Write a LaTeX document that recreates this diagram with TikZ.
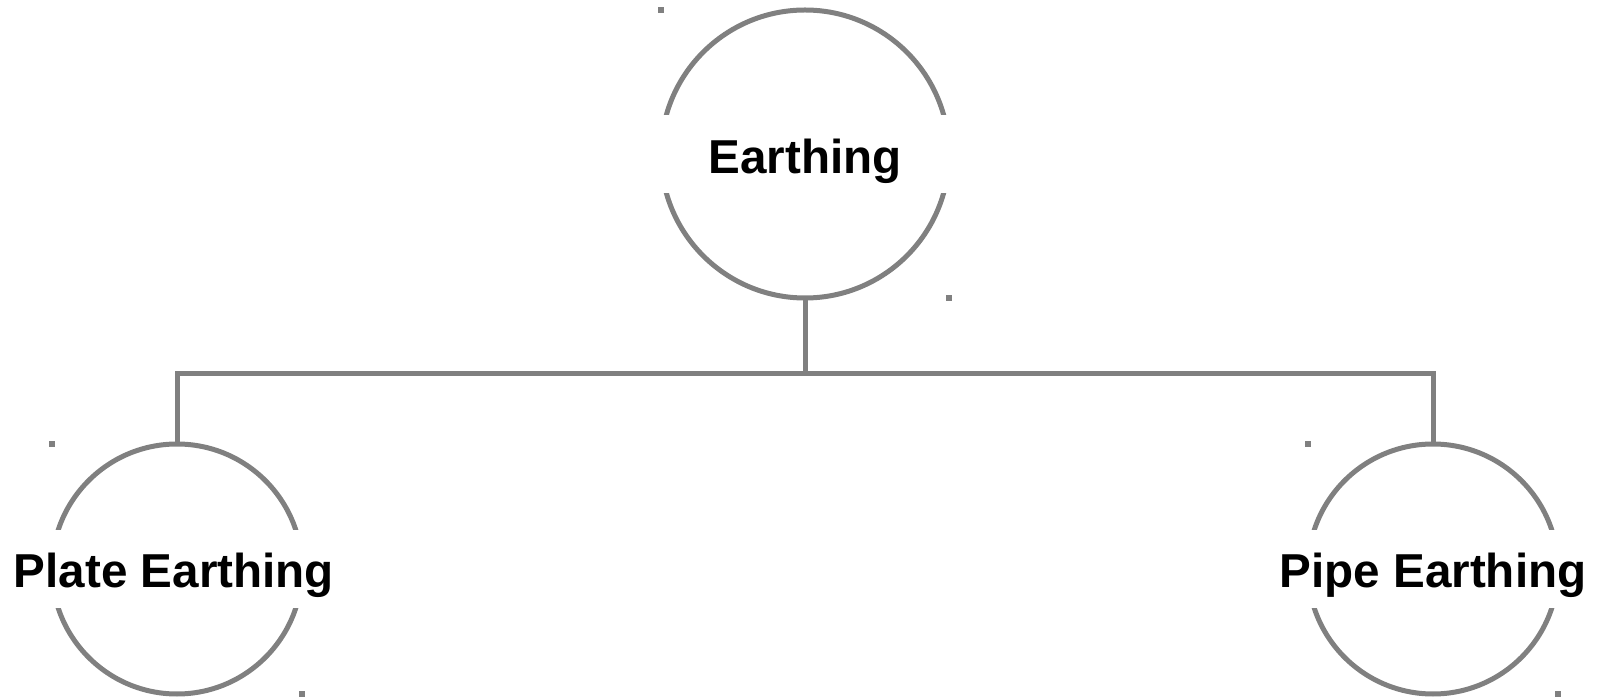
\documentclass[tikz,border=0pt]{standalone}
\usepackage{fontspec}
\setmainfont{Liberation Sans}
\usetikzlibrary{calc}
\definecolor{lineg}{RGB}{128,128,128}
\begin{document}
\begin{tikzpicture}[x=0.5pt,y=-0.5pt,
  ring/.style={circle, draw=lineg, line width=2.5pt, inner sep=0pt, outer sep=0pt},
  lbl/.style={font=\bfseries\fontsize{23.8pt}{28pt}\selectfont, inner sep=0pt, anchor=base},
  conn/.style={draw=lineg, line width=2.5pt},
  handle/.style={fill=lineg, minimum size=3.2pt, inner sep=0pt, outer sep=0pt}]
\useasboundingbox (0,0) rectangle (1600,699);
% circles
\node[ring, minimum size=144pt] (e) at (805,154) {};
\node[ring, minimum size=125pt] (p) at (177,569) {};
\node[ring, minimum size=125pt] (q) at (1433,569) {};
% gaps in the rings
\fill[white] ($(e.west)+(-6,-39)$) rectangle ($(e.east)+(6,39)$);
\fill[white] ($(p.west)+(-6,-39)$) rectangle ($(p.east)+(6,39)$);
\fill[white] ($(q.west)+(-6,-39)$) rectangle ($(q.east)+(6,39)$);
% labels
\node[lbl] (et) at (805,174) {Earthing};
\node[lbl] (pt) at (174,588) {Plate Earthing};
\node[lbl] (qt) at (1433,588) {Pipe Earthing};
% handles
\node[handle] (e1) at (e.west |- e.north) {};
\node[handle] (e2) at (e.east |- e.south) {};
\node[handle] (p1) at (p.west |- p.north) {};
\node[handle] (p2) at (p.east |- p.south) {};
\node[handle] (q1) at (q.west |- q.north) {};
\node[handle] (q2) at (q.east |- q.south) {};
% connectors
\coordinate (j) at (805,374);
\draw[conn] (e.south) -- (j);
\draw[conn] (j) -| (p.north);
\draw[conn] (j) -| (q.north);
\end{tikzpicture}
\end{document}
